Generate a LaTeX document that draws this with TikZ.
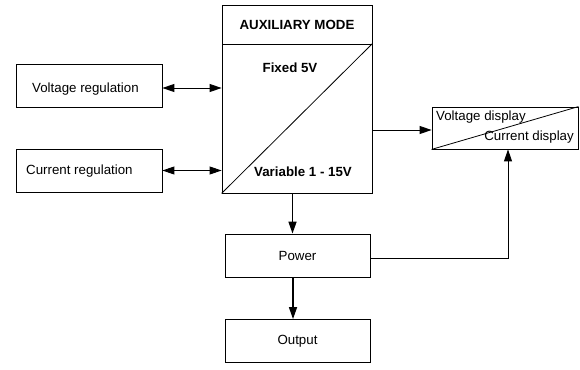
\documentclass[tikz,border=0pt]{standalone}
\usepackage{fontspec}
\setmainfont{Liberation Sans}
\usetikzlibrary{arrows.meta}
\begin{document}
\begin{tikzpicture}[x=1pt,y=-1pt,
  box/.style={draw, line width=0.8pt, minimum width=#1, minimum height=43pt, inner sep=0pt, font=\fontsize{13.3}{15}\selectfont},
  txt/.style={inner sep=0pt, font=\fontsize{13.3}{15}\selectfont},
  btxt/.style={inner sep=0pt, font=\fontsize{13.3}{15}\selectfont\bfseries},
  arr/.style={line width=0.9pt, -{Triangle[length=12pt,width=8pt]}},
  darr/.style={line width=0.9pt, {Triangle[length=12pt,width=8pt]}-{Triangle[length=12pt,width=8pt]}},
  thk/.style={line width=1.6pt, -{Triangle[length=12pt,width=8pt]}}]
\useasboundingbox (0,0) rectangle (580,369);
% left boxes
\node[box=146pt] (volt) at (89,85.5) {};
\node[txt, anchor=west] (volttxt) at (32,89) {Voltage regulation};
\node[box=146pt] (curr) at (89,170.5) {};
\node[txt, anchor=west] (currtxt) at (26,171) {Current regulation};
% main block
\node[draw, line width=0.8pt, minimum width=150pt, minimum height=39pt, inner sep=0pt, btxt] (aux) at (297,24.5) {AUXILIARY MODE};
\node[draw, line width=0.8pt, minimum width=150pt, minimum height=149pt, inner sep=0pt] (body) at (297,118.5) {};
\draw[line width=0.8pt] (body.south west) -- (body.north east);
\node[btxt] (fixed) at (290,68) {Fixed 5V};
\node[btxt] (var) at (303,172) {Variable 1 - 15V};
% display
\node[draw, line width=0.8pt, minimum width=146pt, minimum height=42pt, inner sep=0pt] (disp) at (505,128) {};
\draw[line width=0.8pt] (disp.south west) -- (disp.north east);
\node[txt, anchor=west] (vd) at (436,117) {Voltage display};
\node[txt, anchor=east] (cd) at (574,137) {Current display};
% power, output
\node[box=145pt] (power) at (297.5,255.5) {Power};
\node[box=145pt] (out) at (297.5,341) {Output};
% connectors
\draw[darr] ([yshift=-2.5pt]volt.east) -- ([yshift=-2.5pt]volt.east -| body.west);
\draw[darr] (curr.east) -- (curr.east -| body.west);
\draw[arr] ([yshift=-2pt]body.east |- disp.west) -- ([yshift=-2pt]disp.west);
\draw[thk] ([xshift=-4.5pt]body.south) -- ([xshift=-4.5pt]body.south |- power.north);
\draw[thk] ([xshift=-4.5pt]power.south) -- ([xshift=-4.5pt]power.south |- out.north);
\draw[arr] ([yshift=-2.5pt]power.east) -| ([xshift=3pt]disp.south);
\end{tikzpicture}
\end{document}
